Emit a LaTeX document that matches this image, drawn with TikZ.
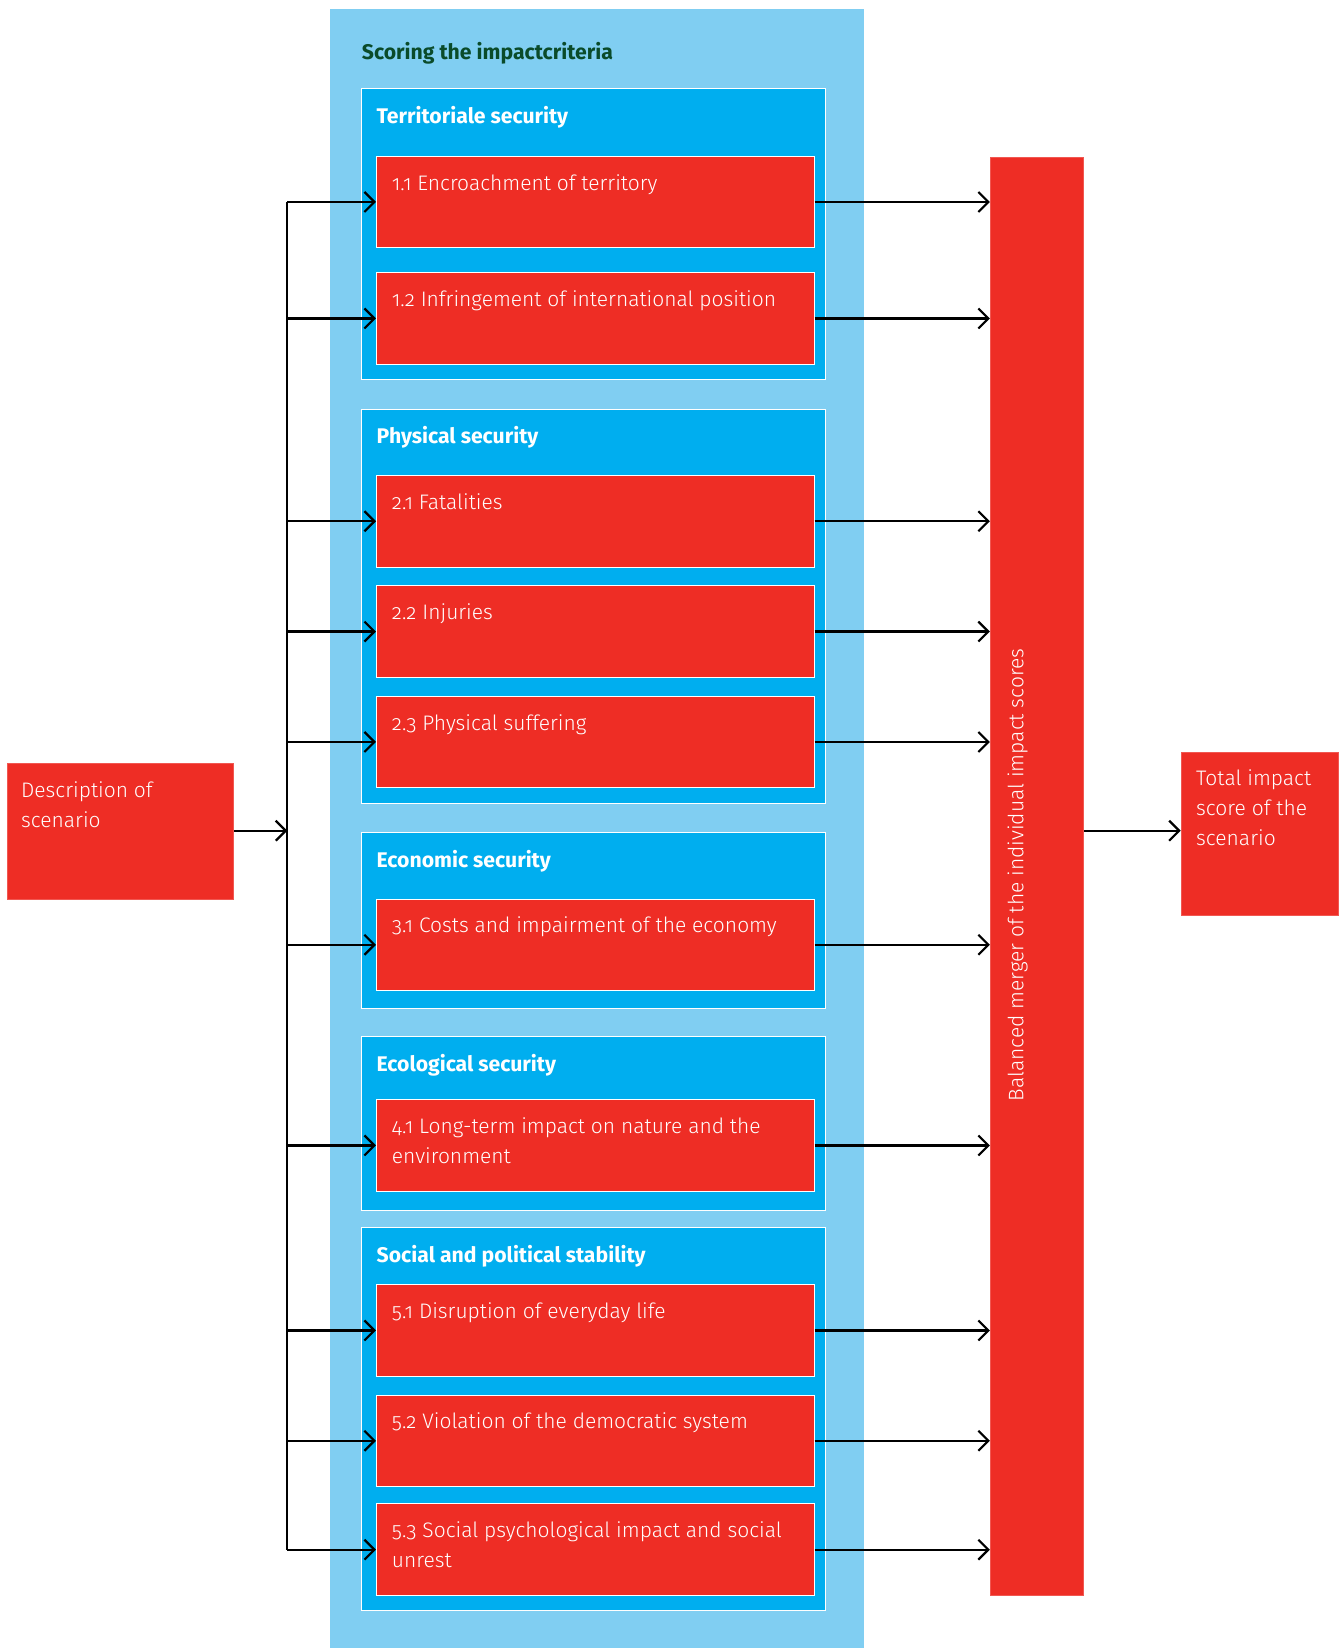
\documentclass[tikz,border=0pt]{standalone}
\usepackage{fontspec}
\setmainfont{Fira Sans}[Numbers=OldStyle]
\newfontfamily\lightfont{Fira Sans Light}[Numbers=OldStyle]
\usetikzlibrary{arrows.meta}

\definecolor{panelblue}{HTML}{80CEF2}
\definecolor{groupblue}{HTML}{00AEEF}
\definecolor{boxred}{HTML}{EE2D25}
\definecolor{titlegreen}{HTML}{0A4B2A}

\tikzset{
  panelbox/.style={rectangle, fill=panelblue, draw=none, inner sep=0pt, anchor=north west},
  groupbox/.style={rectangle, fill=groupblue, draw=white, line width=1pt, inner sep=0pt,
    anchor=north west, minimum width=463.5pt},
  critbox/.style={rectangle, fill=boxred, draw=white, line width=1pt, inner sep=0pt,
    anchor=north west, minimum width=437.5pt, minimum height=91.5pt},
  endbox/.style={rectangle, fill=boxred, draw=boxred!80!white, line width=0.8pt, inner sep=0pt,
    anchor=north west},
  bodytext/.style={text=white, inner sep=0pt, anchor=base west, align=left,
    font=\lightfont\fontsize{21pt}{30pt}\selectfont},
  grouptext/.style={text=white, inner sep=0pt, anchor=base west,
    font=\fontsize{21.2pt}{30pt}\selectfont\bfseries},
  arr/.style={draw=black, line width=2.2pt, -{Straight Barb[length=10pt,width=20pt,line width=2.2pt]}},
  trunkline/.style={draw=black, line width=2.2pt},
}

\begin{document}
\begin{tikzpicture}[x=1pt,y=-1pt]
\useasboundingbox (0,0) rectangle (1343,1648);

% background panel holding all criteria
\node[panelbox, minimum width=534pt, minimum height=1640pt] (panel) at (329.3,9) {};
\node[text=titlegreen, inner sep=0pt, anchor=base west,
  font=\fontsize{21.2pt}{30pt}\selectfont\bfseries] (paneltitle) at (361.7,60) {Scoring the impactcriteria};

% criteria groups
\node[groupbox, minimum height=291pt]   (g1) at (361,88.3) {};
\node[groupbox, minimum height=394pt]   (g2) at (361,408.8) {};
\node[groupbox, minimum height=175.5pt] (g3) at (361,832.3) {};
\node[groupbox, minimum height=173.4pt] (g4) at (361,1036.2) {};
\node[groupbox, minimum height=382.6pt] (g5) at (361,1227.4) {};

\node[grouptext] (g1t) at ([xshift=15.5pt,yshift=-35pt]g1.north west) {Territoriale security};
\node[grouptext] (g2t) at ([xshift=15.5pt,yshift=-35pt]g2.north west) {Physical security};
\node[grouptext] (g3t) at ([xshift=15.5pt,yshift=-35pt]g3.north west) {Economic security};
\node[grouptext] (g4t) at ([xshift=15.5pt,yshift=-35pt]g4.north west) {Ecological security};
\node[grouptext] (g5t) at ([xshift=15.5pt,yshift=-35pt]g5.north west) {Social and political stability};

% individual criteria
\node[critbox] (b11) at (376,155.7) {};
\node[critbox] (b12) at (376,272.2) {};
\node[critbox] (b21) at (376,475) {};
\node[critbox] (b22) at (376,585.3) {};
\node[critbox] (b23) at (376,695.7) {};
\node[critbox] (b31) at (376,898.5) {};
\node[critbox] (b41) at (376,1099.2) {};
\node[critbox] (b51) at (376,1284.2) {};
\node[critbox] (b52) at (376,1394.5) {};
\node[critbox] (b53) at (376,1503.4) {};

% text baselines: a multi-line node sits on its last line
\node[bodytext] (t11) at ([xshift=15.7pt,yshift=-34.3pt]b11.north west) {1.1 Encroachment of territory};
\node[bodytext] (t12) at ([xshift=15.7pt,yshift=-34.3pt]b12.north west) {1.2 Infringement of international position};
\node[bodytext] (t21) at ([xshift=15.7pt,yshift=-34.3pt]b21.north west) {2.1 Fatalities};
\node[bodytext] (t22) at ([xshift=15.7pt,yshift=-34.3pt]b22.north west) {2.2 Injuries};
\node[bodytext] (t23) at ([xshift=15.7pt,yshift=-34.3pt]b23.north west) {2.3 Physical suffering};
\node[bodytext] (t31) at ([xshift=15.7pt,yshift=-34.3pt]b31.north west) {3.1 Costs and impairment of the economy};
\node[bodytext] (t41) at ([xshift=15.7pt,yshift=-64.3pt]b41.north west) {4.1 Long-term impact on nature and the\\environment};
\node[bodytext] (t51) at ([xshift=15.7pt,yshift=-34.3pt]b51.north west) {5.1 Disruption of everyday life};
\node[bodytext] (t52) at ([xshift=15.7pt,yshift=-34.3pt]b52.north west) {5.2 Violation of the democratic system};
\node[bodytext] (t53) at ([xshift=15.7pt,yshift=-64.3pt]b53.north west) {5.3 Social psychological impact and social\\unrest};

% scenario input and total output
\node[endbox, minimum width=226pt, minimum height=136pt] (desc) at (7.3,763.3) {};
\node[bodytext] (desct) at ([xshift=13.7pt,yshift=-63.7pt]desc.north west) {Description of\\scenario};

\node[endbox, minimum width=93.5pt, minimum height=1438pt] (merge) at (989.9,156.6) {};
\node[text=white, inner sep=0pt, rotate=90, anchor=base,
  font=\lightfont\fontsize{21pt}{30pt}\selectfont] (merget) at (1023.3,875) {Balanced merger of the individual impact scores};

\node[endbox, minimum width=157.6pt, minimum height=162.7pt] (total) at (1180.7,752.3) {};
\node[bodytext] (totalt) at ([xshift=15.3pt,yshift=-93.4pt]total.north west) {Total impact\\score of the\\scenario};

% distribution trunk
\coordinate (trunk) at (287.3,830.7);
\draw[arr] (desc.east |- trunk) -- (trunk);
\draw[trunkline] (trunk |- b11.west) -- (trunk |- b53.west);

\foreach \b in {b11,b12,b21,b22,b23,b31,b41,b51,b52,b53}{
  \draw[arr] (trunk |- \b.west) -- (\b.west);
  \draw[arr] (\b.east) -- (merge.west |- \b.east);
}

\draw[arr] (merge.east |- trunk) -- (total.west |- trunk);
\end{tikzpicture}
\end{document}
